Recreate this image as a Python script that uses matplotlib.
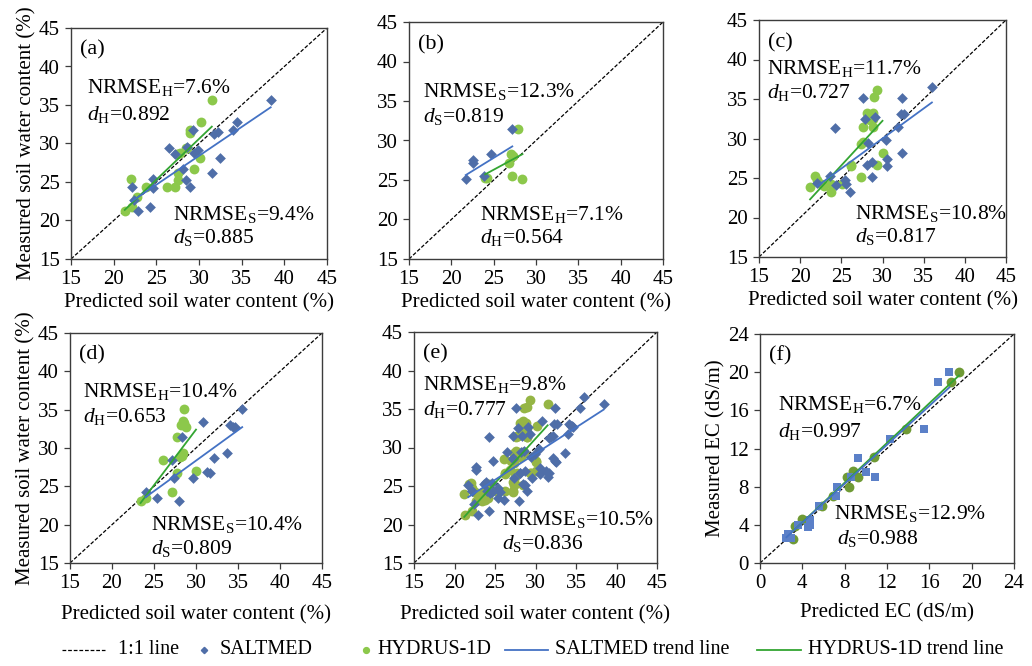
import numpy as np
import matplotlib
matplotlib.use("Agg")
import matplotlib.pyplot as plt
from matplotlib.lines import Line2D

plt.rcParams['font.family'] = ['Liberation Serif', 'DejaVu Serif']
plt.rcParams['mathtext.fontset'] = 'custom'
plt.rcParams['mathtext.rm'] = 'Liberation Serif'
plt.rcParams['mathtext.it'] = 'Liberation Serif:italic'

# ---------------- data ----------------
# panel (a)
a_s_x = [38.4, 34.5, 34.0, 32.2, 31.7, 29.3, 32.5, 31.5, 29.9, 29.4, 26.5, 27.2, 28.1, 28.5, 29.0, 24.6, 24.6, 22.1, 24.2, 22.9, 22.4, 28.6]
a_s_y = [35.7, 32.8, 31.7, 31.5, 31.2, 31.8, 28.1, 26.2, 29.2, 28.8, 29.4, 28.7, 26.7, 25.2, 24.3, 25.4, 24.2, 24.3, 21.7, 21.2, 22.7, 29.6]
a_h_x = [31.5, 30.2, 29.0, 28.9, 28.6, 27.8, 27.4, 30.1, 29.4, 27.5, 27.5, 27.2, 26.2, 23.8, 22.0, 22.7, 22.1, 21.3, 28.5]
a_h_y = [35.7, 32.8, 31.7, 31.4, 29.4, 28.8, 28.7, 28.1, 26.7, 26.2, 25.2, 24.3, 24.3, 24.3, 25.4, 23.1, 21.8, 21.2, 29.4]
# panel (b)
b_s_x = [21.7, 22.6, 22.6, 24.7, 23.9, 27.2]
b_s_y = [25.1, 27.5, 27.1, 28.3, 25.5, 31.5]
b_h_x = [27.9, 27.0, 27.3, 26.8, 27.2, 28.4, 24.2, 24.0]
b_h_y = [31.5, 28.3, 28.0, 27.1, 25.5, 25.1, 25.3, 25.3]
# panel (c)
c_s_x = [36.0, 32.4, 27.6, 32.3, 32.6, 27.9, 24.2, 31.9, 30.4, 28.2, 32.4, 30.5, 30.6, 28.7, 28.1, 28.7, 23.6, 25.4, 25.6, 26.1, 24.4, 22.1, 29.1]
c_s_y = [36.5, 35.1, 35.1, 33.1, 33.1, 32.5, 31.3, 31.4, 29.8, 29.4, 28.2, 27.4, 26.5, 27.0, 26.7, 25.1, 25.2, 24.8, 24.2, 23.2, 24.1, 24.4, 32.7]
c_h_x = [29.3, 29.0, 28.1, 28.8, 28.5, 28.9, 28.5, 27.6, 28.9, 27.6, 27.4, 30.0, 29.3, 26.2, 26.2, 27.4, 25.1, 23.8, 23.7, 21.2, 21.8, 22.1, 22.5, 22.9]
c_h_y = [36.2, 35.2, 33.2, 33.2, 33.0, 32.5, 32.4, 31.4, 31.4, 29.6, 29.3, 28.2, 26.7, 26.7, 26.5, 25.1, 24.3, 23.2, 24.2, 23.9, 25.3, 24.7, 24.2, 24.0]
# panel (d)
d_s_x = [35.5, 34.1, 34.4, 34.6, 30.8, 28.3, 27.2, 32.1, 33.7, 31.3, 31.7, 29.6, 27.4, 24.0, 25.4, 28.0]
d_s_y = [35.1, 33.0, 32.8, 32.7, 33.4, 31.5, 28.5, 28.7, 29.3, 26.9, 26.7, 26.1, 26.1, 24.3, 23.5, 23.1]
d_h_x = [28.6, 28.5, 28.6, 28.2, 28.8, 27.7, 28.4, 28.3, 28.1, 26.1, 27.7, 30.0, 27.2, 24.1, 23.4]
d_h_y = [35.1, 33.5, 33.2, 33.0, 32.7, 31.5, 29.3, 29.0, 28.8, 28.5, 26.7, 27.0, 24.2, 23.5, 23.1]
# panel (f) EC
f_s_x = [17.9, 16.8, 15.5, 12.3, 9.3, 10.0, 10.9, 8.6, 7.3, 7.2, 5.6, 4.7, 4.7, 3.6, 4.5, 2.6, 2.5, 2.9]
f_s_y = [20.0, 19.0, 14.0, 13.0, 11.0, 9.5, 9.0, 9.0, 8.0, 7.0, 6.0, 4.5, 4.0, 4.0, 3.8, 3.0, 2.6, 2.6]
f_h_x = [18.8, 18.0, 13.8, 10.8, 8.8, 9.3, 8.2, 8.4, 6.9, 5.9, 4.0, 3.3, 3.1]
f_h_y = [20.0, 19.0, 14.0, 11.1, 9.6, 9.0, 9.0, 8.0, 7.0, 6.0, 4.6, 3.9, 2.5]

# trend lines (slope, intercept), panels a-f
trend_s_slope = [0.75, 0.66, 0.76, 0.795, 0.68, 1.02]
trend_s_icpt = [5.9, 11.3, 7.2, 4.5, 8.8, 0.15]
trend_h_slope = [1.06, 0.58, 1.13, 1.45, 1.155, 1.04]
trend_h_icpt = [-1.2, 11.8, -1.66, -11.1, -3.5, 0.1]

labels = ['(a)', '(b)', '(c)', '(d)', '(e)', '(f)']
stats_top = [('H', '7.6', '0.892'), ('S', '12.3', '0.819'), ('H', '11.7', '0.727'),
             ('H', '10.4', '0.653'), ('H', '9.8', '0.777'), ('H', '6.7', '0.997')]
stats_bot = [('S', '9.4', '0.885'), ('H', '7.1', '0.564'), ('S', '10.8', '0.817'),
             ('S', '10.4', '0.809'), ('S', '10.5', '0.836'), ('S', '12.9', '0.988')]
swc_ticks = [15, 20, 25, 30, 35, 40, 45]
ec_ticks = [0, 4, 8, 12, 16, 20, 24]
legend_names = ['1:1 line', 'SALTMED', 'HYDRUS-1D', 'SALTMED trend line', 'HYDRUS-1D trend line']

# panel (e) = all soil water content data combined
e_s_x = a_s_x + b_s_x + c_s_x + d_s_x
e_s_y = a_s_y + b_s_y + c_s_y + d_s_y
e_h_x = a_h_x + b_h_x + c_h_x + d_h_x
e_h_y = a_h_y + b_h_y + c_h_y + d_h_y

datasets = [(a_s_x, a_s_y, a_h_x, a_h_y), (b_s_x, b_s_y, b_h_x, b_h_y),
            (c_s_x, c_s_y, c_h_x, c_h_y), (d_s_x, d_s_y, d_h_x, d_h_y),
            (e_s_x, e_s_y, e_h_x, e_h_y), (f_s_x, f_s_y, f_h_x, f_h_y)]

# ---------------- layout ----------------
W, H = 1032, 666
boxes = [(71, 327, 28, 259), (409, 663, 22, 259), (759, 1006, 20, 257),
         (70, 322, 333, 563), (414, 657, 332, 563), (760, 1014, 334, 563)]
top_pos = [(0.064, 0.719, 0.603), (0.055, 0.684, 0.579), (0.032, 0.772, 0.669),
           (0.053, 0.722, 0.613), (0.038, 0.747, 0.639), (0.072, 0.666, 0.552)]
bot_pos = [(0.398, 0.170, 0.069), (0.279, 0.165, 0.067), (0.388, 0.162, 0.063),
           (0.321, 0.142, 0.041), (0.361, 0.163, 0.062), (0.292, 0.190, 0.082)]

blue_pt = ['#4f6ea8'] * 5 + ['#5b80c8']
green_pt = ['#8cc84b', '#8cc84b', '#8cc84b', '#8cc84b', '#95b545', '#6f9a35']
blue_ln = '#4472c4'
green_ln = '#33a532'
spine_c = '#3c3c3c'
dash = (0, (3, 1.5))

fig = plt.figure(figsize=(W / 100, H / 100), dpi=100)

for i, (sx, sy, hx, hy) in enumerate(datasets):
    l, r, t, b = boxes[i]
    ax = fig.add_axes([l / W, 1 - b / H, (r - l) / W, (b - t) / H])
    ticks = ec_ticks if i == 5 else swc_ticks
    lo, hi = ticks[0], ticks[-1]
    ax.set_xlim(lo, hi)
    ax.set_ylim(lo, hi)
    ax.plot([lo, hi], [lo, hi], color='black', lw=0.9, ls=dash, zorder=1)
    smark = 's' if i == 5 else 'D'
    ssize = 40 if i == 5 else 30
    ax.scatter(sx, sy, marker=smark, s=ssize, color=blue_pt[i], lw=0, zorder=3)
    ax.scatter(hx, hy, marker='o', s=50, color=green_pt[i], lw=0, zorder=2)
    for xs, k, m, c, z in ((hx, trend_h_slope[i], trend_h_icpt[i], green_ln, 4),
                           (sx, trend_s_slope[i], trend_s_icpt[i], blue_ln, 5)):
        xx = np.array([min(xs), max(xs)])
        ax.plot(xx, k * xx + m, color=c, lw=1.3, zorder=z)
    ax.set_xticks(ticks)
    ax.set_yticks(ticks)
    ax.tick_params(direction='out', length=4, width=0.9, color=spine_c, labelsize=15, pad=4)
    for sp in ax.spines.values():
        sp.set_color(spine_c)
        sp.set_linewidth(1.0)
    ax.text(0.035, 0.905, labels[i], transform=ax.transAxes, fontsize=16, va='center', ha='left')
    m1, v1, d1 = stats_top[i]
    tx, ty1, ty2 = top_pos[i]
    ax.text(tx, ty1, 'NRMSE$_{\\mathrm{%s}}$=%s%%' % (m1, v1), transform=ax.transAxes,
            fontsize=15.5, va='baseline', ha='left')
    ax.text(tx, ty2, '$d_{\\mathrm{%s}}$=%s' % (m1, d1), transform=ax.transAxes,
            fontsize=15.5, va='baseline', ha='left')
    m2, v2, d2 = stats_bot[i]
    bx, by1, by2 = bot_pos[i]
    ax.text(bx, by1, 'NRMSE$_{\\mathrm{%s}}$=%s%%' % (m2, v2), transform=ax.transAxes,
            fontsize=15.5, va='baseline', ha='left')
    ax.text(bx + (0.01 if i == 5 else 0.0), by2, '$d_{\\mathrm{%s}}$=%s' % (m2, d2), transform=ax.transAxes,
            fontsize=15.5, va='baseline', ha='left')
    if i == 5:
        ax.set_xlabel('Predicted EC (dS/m)', fontsize=15, labelpad=7)
        ax.set_ylabel('Measured EC (dS/m)', fontsize=15, labelpad=2)
    else:
        ax.set_xlabel('Predicted soil water content (%)', fontsize=15,
                      labelpad=(3 if i < 3 else 9))
        if i in (0, 3):
            ax.set_ylabel('Measured soil water content (%)', fontsize=15, labelpad=2)

# ---------------- legend (manual, figure pixel layout) ----------------
leg = fig.add_axes([0, 0, 1, 1], facecolor='none')
leg.set_axis_off()
leg.set_xlim(0, W)
leg.set_ylim(H, 0)
leg_row = 650
handle_specs = [
    dict(kind='line', x0=62, x1=105, color='black', ls=dash, lw=0.9),
    dict(kind='mark', x=204, color=blue_pt[0], marker='D', ms=3.2),
    dict(kind='mark', x=366, color=green_pt[0], marker='o', ms=4.2),
    dict(kind='line', x0=505, x1=548, color=blue_ln, ls='-', lw=1.3),
    dict(kind='line', x0=757, x1=801, color=green_ln, ls='-', lw=1.3),
]
text_x = [118, 220, 377, 555, 808]
for spec, name, txp in zip(handle_specs, legend_names, text_x):
    if spec['kind'] == 'line':
        leg.add_line(Line2D([spec['x0'], spec['x1']], [leg_row, leg_row], color=spec['color'],
                            ls=spec['ls'], lw=spec['lw']))
    else:
        leg.add_line(Line2D([spec['x']], [leg_row], color=spec['color'], marker=spec['marker'],
                            ms=spec['ms'], lw=0))
    leg.text(txp, leg_row, name, fontsize=14.5, va='center', ha='left')

fig.savefig('out.png', dpi=100)
